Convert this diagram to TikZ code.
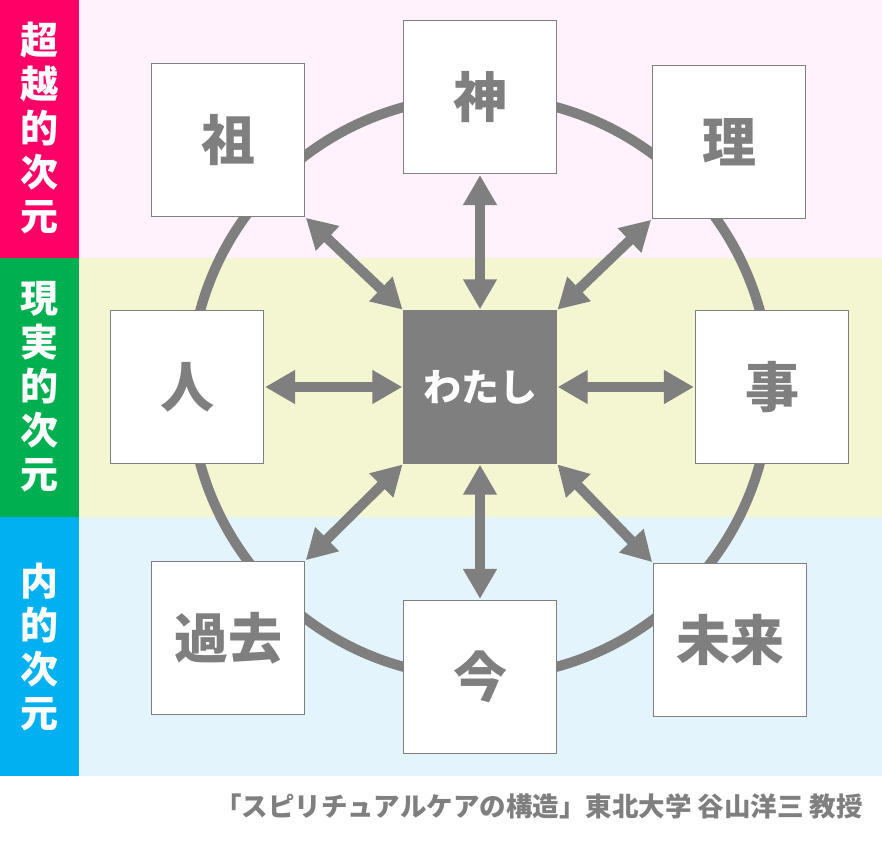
\documentclass[tikz,border=0pt]{standalone}
\usepackage{fontspec}
\newfontfamily\jp{Noto Sans CJK JP}
\usetikzlibrary{arrows.meta}
\definecolor{gr}{HTML}{7F7F7F}
\definecolor{pinkL}{HTML}{FF0066}
\definecolor{pinkB}{HTML}{FFF2FC}
\definecolor{greenL}{HTML}{00B050}
\definecolor{yelB}{HTML}{F4F6D2}
\definecolor{blueL}{HTML}{00B0F0}
\definecolor{blueB}{HTML}{E3F4FC}
\tikzset{
  box/.style={draw=gr, line width=1.2pt, fill=white, minimum size=153pt, inner sep=0pt, text=gr, font=\jp\bfseries\fontsize{54}{54}\selectfont},
  me/.style={fill=gr, draw=gr, minimum size=153pt, inner sep=0pt, text=white, font=\jp\bfseries\fontsize{38}{38}\selectfont},
  dim/.style={text=white, align=center, font=\jp\bfseries\fontsize{38}{44}\selectfont},
  dbl/.style={draw=gr, line width=10pt, {Triangle[width=32pt,length=30pt]}-{Triangle[width=32pt,length=30pt]}, shorten <=1pt, shorten >=1pt}
}
\begin{document}
\begin{tikzpicture}[x=1pt,y=-1pt]
\useasboundingbox (0,0) rectangle (882,843);
\fill[white] (0,0) rectangle (882,843);
% bands
\fill[pinkL] (0,0) rectangle (79,258);
\fill[greenL] (0,258) rectangle (79,517);
\fill[blueL] (0,517) rectangle (79,776);
\fill[pinkB] (79,0) rectangle (882,258);
\fill[yelB] (79,258) rectangle (882,517);
\fill[blueB] (79,517) rectangle (882,776);
\node[dim] (d1) at (39,128) {超\\越\\的\\次\\元};
\node[dim] (d2) at (39,387) {現\\実\\的\\次\\元};
\node[dim] (d3) at (39,647) {内\\的\\次\\元};
% circle
\node[draw=gr, line width=10pt, circle, minimum size=580pt, inner sep=0pt] (ring) at (480,387) {};
% boxes
\node[me] (me) at (480,387) {わたし};
\node[box] (kami) at (480,97) {神};
\node[box] (so) at (228,140) {祖};
\node[box] (ri) at (729,142) {理};
\node[box] (hito) at (187,387) {人};
\node[box] (koto) at (772,387) {事};
\node[box] (kako) at (228,638) {過去};
\node[box] (ima) at (480,677) {今};
\node[box] (mirai) at (730,640) {未来};
% arrows
\draw[dbl] (kami.south) -- (me.north);
\draw[dbl] (ima.north) -- (me.south);
\draw[dbl] (hito.east) -- (me.west);
\draw[dbl] (koto.west) -- (me.east);
\draw[dbl] (so.south east) -- (me.north west);
\draw[dbl] (ri.south west) -- (me.north east);
\draw[dbl] (kako.north east) -- (me.south west);
\draw[dbl] (mirai.north west) -- (me.south east);
% caption
\node[anchor=east, text=gr, font=\jp\bfseries\fontsize{26.5}{26.5}\selectfont, inner sep=0pt] (cap) at (863,806) {「スピリチュアルケアの構造」東北大学 谷山洋三 教授};
\end{tikzpicture}
\end{document}
